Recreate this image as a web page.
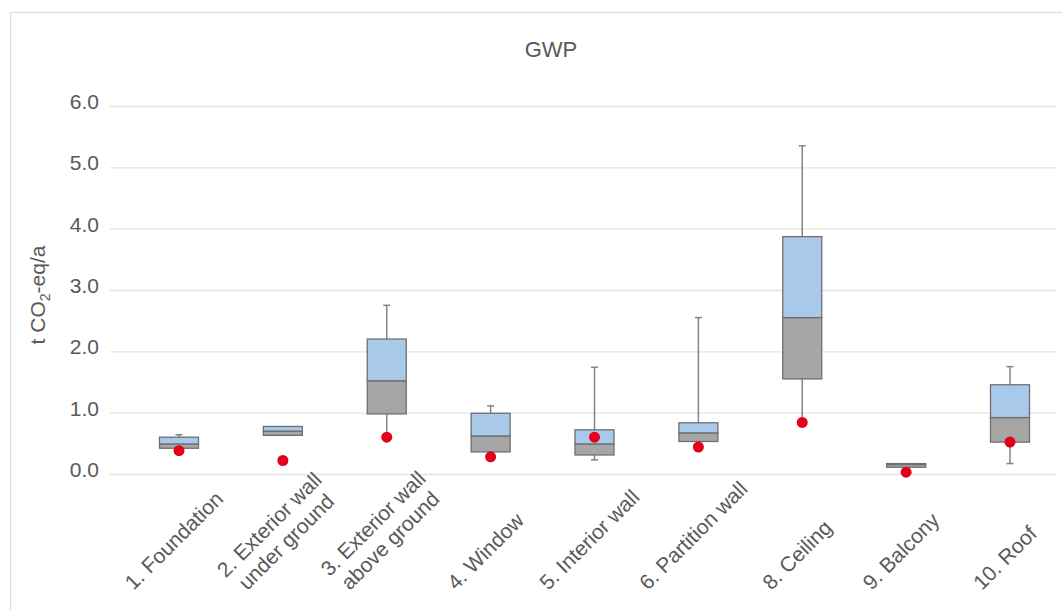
<!DOCTYPE html>
<html>
<head>
<meta charset="utf-8">
<script src="https://cdn.jsdelivr.net/npm/d3@7"></script>
<style>
  body { margin: 0; background: #ffffff; }
  .parentBoxPlot { width: 1062px; height: 610px; }
</style>
</head>
<body>
<div class="parentBoxPlot"></div>
<script>
// data for the GWP box plot
let categories = [
  "1. Foundation",
  "2. Exterior wall\nunder ground",
  "3. Exterior wall\nabove ground",
  "4. Window",
  "5. Interior wall",
  "6. Partition wall",
  "8. Ceiling",
  "9. Balcony",
  "10. Roof",
];
let minValues = [0.42, 0.63, 0.62, 0.36, 0.23, 0.53, 0.78, 0.11, 0.17];
let q1Values = [0.42, 0.63, 0.98, 0.36, 0.31, 0.53, 1.55, 0.11, 0.52];
let medianValues = [0.49, 0.70, 1.52, 0.62, 0.49, 0.67, 2.55, 0.155, 0.92];
let q3Values = [0.60, 0.775, 2.2, 0.99, 0.72, 0.835, 3.87, 0.17, 1.455];
let maxValues = [0.64, 0.775, 2.75, 1.11, 1.74, 2.55, 5.35, 0.17, 1.75];
let caseValues = [0.38, 0.22, 0.6, 0.28, 0.6, 0.44, 0.84, 0.03, 0.52];
let yTicks = [0, 1, 2, 3, 4, 5, 6];

boxPlot(".parentBoxPlot");

// box plot in d3
function boxPlot(parentDiv) {
  // Exposed variables
  let attrs = {
    width: 1062,
    height: 610,
    plotLeft: 110, // gridlines start
    plotRight: 1056, // gridlines end
    plotTop: 106,
    plotBottom: 474,
    firstCenter: 179, // center of first box
    lastCenter: 1010, // center of last box
    boxWidth: 39,
    capWidth: 7,
    dotRadius: 5.5,
    textFont: "'Liberation Sans', Arial, sans-serif",
    textColor: "#595959",
    gridColor: "#e3e3e3",
    upperColor: "#a9c9ea", // median -> Q3
    lowerColor: "#a6a6a6", // Q1 -> median
    boxStroke: "#6f6f6f",
    whiskerColor: "#858585",
    dotColor: "#e2001a",
    labelBottom: 591, // y where rotated labels start
  };

  let svg = d3
    .select(parentDiv)
    .append("svg")
    .attr("width", attrs.width)
    .attr("height", attrs.height);

  // chart frame
  svg
    .append("rect")
    .attr("x", 10.5)
    .attr("y", 12.5)
    .attr("width", 1200)
    .attr("height", 800)
    .attr("fill", "none")
    .attr("stroke", "#dcdcdc")
    .attr("stroke-width", 1.2);

  // scales
  let x = d3
    .scalePoint()
    .domain(categories)
    .range([attrs.firstCenter, attrs.lastCenter]);
  let y = d3
    .scaleLinear()
    .domain([0, 6])
    .range([attrs.plotBottom, attrs.plotTop]);

  // y axis with gridlines
  let yAxis = svg
    .append("g")
    .attr("transform", "translate(" + attrs.plotLeft + ",0)")
    .call(
      d3
        .axisLeft(y)
        .tickValues(yTicks)
        .tickFormat(d3.format(".1f"))
        .tickSize(-(attrs.plotRight - attrs.plotLeft))
        .tickPadding(11)
    );
  yAxis.select(".domain").remove();
  yAxis
    .selectAll(".tick line")
    .attr("stroke", attrs.gridColor)
    .attr("stroke-width", 1.3);
  yAxis
    .selectAll(".tick text")
    .attr("font-family", attrs.textFont)
    .attr("font-size", 21)
    .attr("fill", attrs.textColor)
    .attr("dy", "0.12em");

  // title
  svg
    .append("text")
    .attr("x", 551)
    .attr("y", 57)
    .attr("text-anchor", "middle")
    .attr("font-family", attrs.textFont)
    .attr("font-size", 22)
    .attr("fill", attrs.textColor)
    .text("GWP");

  // y axis title
  let yTitle = svg
    .append("text")
    .attr("transform", "translate(45,295) rotate(-90)")
    .attr("text-anchor", "middle")
    .attr("font-family", attrs.textFont)
    .attr("font-size", 21)
    .attr("fill", attrs.textColor);
  yTitle.append("tspan").text("t CO");
  yTitle.append("tspan").attr("font-size", 14).attr("dy", 5).text("2");
  yTitle.append("tspan").attr("dy", -5).text("-eq/a");

  let idx = d3.range(categories.length);

  // whiskers
  let whiskers = svg.append("g").attr("stroke", attrs.whiskerColor).attr("stroke-width", 1.5);
  idx.forEach(function (i) {
    let cx = x(categories[i]);
    if (maxValues[i] > q3Values[i]) {
      whiskers.append("line").attr("x1", cx).attr("x2", cx)
        .attr("y1", y(q3Values[i])).attr("y2", y(maxValues[i]));
      whiskers.append("line").attr("x1", cx - attrs.capWidth / 2).attr("x2", cx + attrs.capWidth / 2)
        .attr("y1", y(maxValues[i])).attr("y2", y(maxValues[i]));
    }
    if (minValues[i] < q1Values[i]) {
      whiskers.append("line").attr("x1", cx).attr("x2", cx)
        .attr("y1", y(q1Values[i])).attr("y2", y(minValues[i]));
      whiskers.append("line").attr("x1", cx - attrs.capWidth / 2).attr("x2", cx + attrs.capWidth / 2)
        .attr("y1", y(minValues[i])).attr("y2", y(minValues[i]));
    }
  });

  // lower box part (Q1 -> median)
  svg
    .append("g")
    .selectAll("rect")
    .data(idx)
    .enter()
    .append("rect")
    .attr("x", (i) => x(categories[i]) - attrs.boxWidth / 2)
    .attr("y", (i) => y(medianValues[i]))
    .attr("width", attrs.boxWidth)
    .attr("height", (i) => y(q1Values[i]) - y(medianValues[i]))
    .attr("fill", attrs.lowerColor)
    .attr("stroke", attrs.boxStroke)
    .attr("stroke-width", 1.3);

  // upper box part (median -> Q3)
  svg
    .append("g")
    .selectAll("rect")
    .data(idx)
    .enter()
    .append("rect")
    .attr("x", (i) => x(categories[i]) - attrs.boxWidth / 2)
    .attr("y", (i) => y(q3Values[i]))
    .attr("width", attrs.boxWidth)
    .attr("height", (i) => y(medianValues[i]) - y(q3Values[i]))
    .attr("fill", attrs.upperColor)
    .attr("stroke", attrs.boxStroke)
    .attr("stroke-width", 1.3);

  // case building values
  svg
    .append("g")
    .selectAll("circle")
    .data(idx)
    .enter()
    .append("circle")
    .attr("cx", (i) => x(categories[i]))
    .attr("cy", (i) => y(caseValues[i]))
    .attr("r", attrs.dotRadius)
    .attr("fill", attrs.dotColor);

  // rotated category labels, centered on the box, bottom aligned
  let lineHeight = 24;
  categories.forEach(function (c) {
    let lines = c.split("\n");
    let g = svg.append("g");
    let text = g
      .append("text")
      .attr("text-anchor", "middle")
      .attr("font-family", attrs.textFont)
      .attr("font-size", 21)
      .attr("fill", attrs.textColor);
    let maxDrop = 0;
    lines.forEach(function (line, k) {
      let ly = (k - (lines.length - 1) / 2) * lineHeight;
      let t = text.append("tspan").attr("x", 0).attr("y", ly).text(line);
      let len = t.node().getComputedTextLength();
      maxDrop = Math.max(maxDrop, Math.SQRT1_2 * (len / 2 + ly));
    });
    g.attr(
      "transform",
      "translate(" + x(c) + "," + (attrs.labelBottom - maxDrop) + ") rotate(-45)"
    );
  });
}
</script>
</body>
</html>
